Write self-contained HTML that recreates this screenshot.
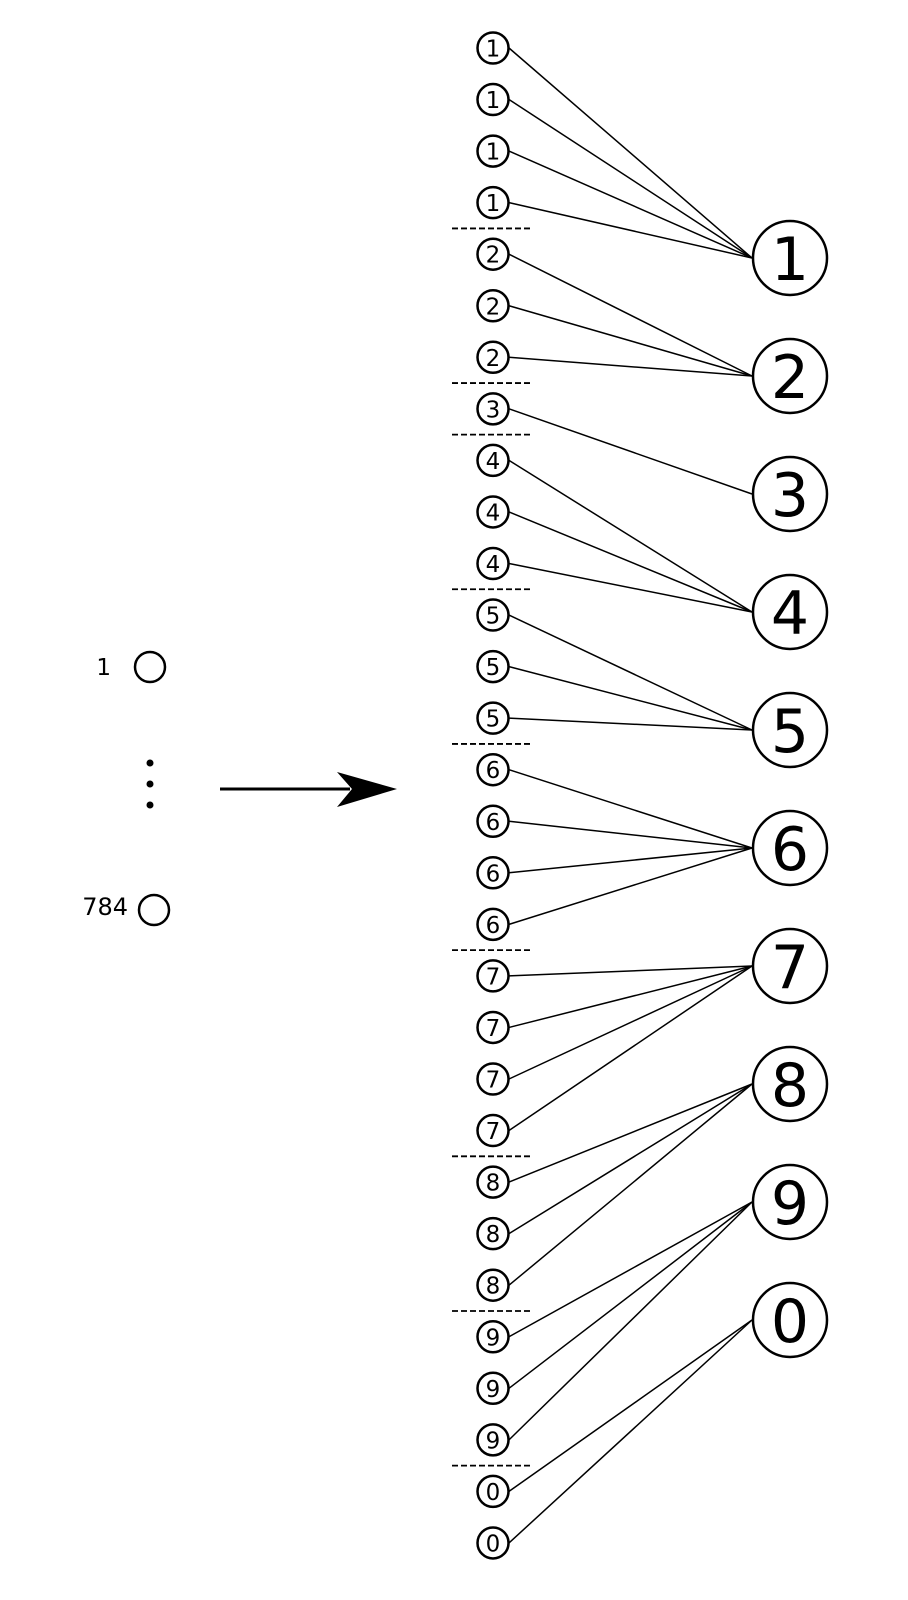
<!DOCTYPE html>
<html><head><meta charset="utf-8"><style>html,body{margin:0;padding:0;background:#fff}svg{display:block}</style></head>
<body>
<svg width="908" height="1600" viewBox="0 0 908 1600" xmlns="http://www.w3.org/2000/svg" font-family="DejaVu Sans, Liberation Sans, sans-serif">
<rect width="908" height="1600" fill="#fff"/>
<!-- left -->
<text x="111" y="675" font-size="23" text-anchor="end">1</text>
<circle cx="150" cy="667" r="15" fill="none" stroke="#000" stroke-width="2.5"/>
<circle cx="150" cy="763" r="3.5"/><circle cx="150" cy="784" r="3.5"/><circle cx="150" cy="805" r="3.5"/>
<text x="128" y="915" font-size="24" text-anchor="end">784</text>
<circle cx="154" cy="910" r="15" fill="none" stroke="#000" stroke-width="2.5"/>
<line x1="220" y1="789" x2="350" y2="789" stroke="#000" stroke-width="3"/>
<polygon points="337,772 397,789 337,807 352,789" fill="#000"/>
<g id="net"></g>
</svg>
<script>
var labels=[1,1,1,1,2,2,2,3,4,4,4,5,5,5,6,6,6,6,7,7,7,7,8,8,8,9,9,9,0,0];
var bigOrder=[1,2,3,4,5,6,7,8,9,0];
var g=document.getElementById('net'),s='';
function sy(i){return 48+i*51.55;}
function by(k){return 258+k*118;}
for(var i=0;i<30;i++){
  var l=labels[i],k=bigOrder.indexOf(l),y=sy(i);
  s+='<line x1="509" y1="'+y+'" x2="752" y2="'+by(k)+'" stroke="#000" stroke-width="1.5"/>';
  if(i>0&&labels[i-1]!==l){var dy=(sy(i-1)+y)/2;s+='<line x1="452" y1="'+dy+'" x2="533" y2="'+dy+'" stroke="#000" stroke-width="1.8" stroke-dasharray="6,3"/>';}
}
for(var i=0;i<30;i++){
  var y=sy(i);
  s+='<circle cx="493" cy="'+y+'" r="15.5" fill="#fff" stroke="#000" stroke-width="2.5"/>';
  s+='<text x="493" y="'+(y+8.5)+'" font-size="23" text-anchor="middle">'+labels[i]+'</text>';
}
for(var k=0;k<10;k++){
  var y=by(k);
  s+='<circle cx="790" cy="'+y+'" r="37" fill="#fff" stroke="#000" stroke-width="2.5"/>';
  s+='<text x="790" y="'+(y+22)+'" font-size="60" text-anchor="middle">'+bigOrder[k]+'</text>';
}
g.innerHTML=s;
</script>
</body></html>
